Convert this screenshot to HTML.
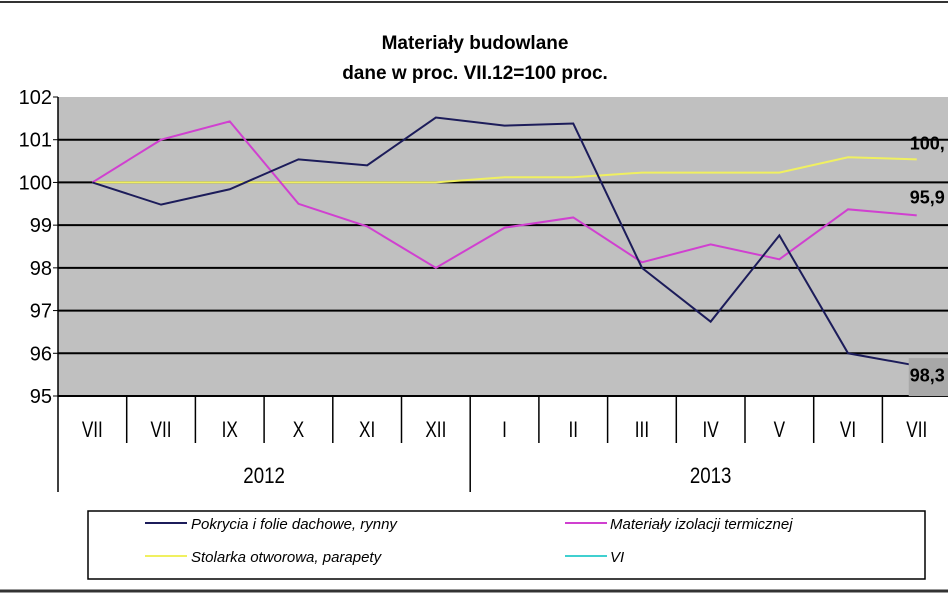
<!DOCTYPE html>
<html><head><meta charset="utf-8"><style>
html,body{margin:0;padding:0;background:#fff;}
body{width:948px;height:593px;overflow:hidden;position:relative;font-family:"Liberation Sans",sans-serif;}
</style></head><body>
<svg id="chart" width="948" height="593" xmlns="http://www.w3.org/2000/svg" font-family="Liberation Sans, sans-serif">
<line x1="0" y1="2" x2="948" y2="2" stroke="#333" stroke-width="2"/>
<line x1="0" y1="591" x2="948" y2="591" stroke="#333" stroke-width="3"/>
<text x="475" y="49" text-anchor="middle" font-size="19" font-weight="bold">Materiały budowlane</text>
<text x="475" y="79" text-anchor="middle" font-size="19" font-weight="bold">dane w proc. VII.12=100 proc.</text>
<rect x="58" y="97" width="890" height="299" fill="#c0c0c0"/>
<g id="grid"></g><g id="axes"></g><g id="series"></g><g id="labels"></g>
<rect x="88" y="511" width="837" height="68" fill="#fff" stroke="#000" stroke-width="1.5"/>
<g font-size="15" font-style="italic">
<g><line x1="145" y1="523" x2="187" y2="523" stroke="#1c1c5a" stroke-width="2"/><text x="191" y="529">Pokrycia i folie dachowe, rynny</text></g>
<g><line x1="565" y1="523" x2="607" y2="523" stroke="#d040d0" stroke-width="2"/><text x="610" y="529">Materiały izolacji termicznej</text></g>
<g><line x1="145" y1="556" x2="187" y2="556" stroke="#f0f060" stroke-width="2"/><text x="191" y="562">Stolarka otworowa, parapety</text></g>
<g><line x1="565" y1="556" x2="607" y2="556" stroke="#40d0d0" stroke-width="2"/><text x="610" y="562">VI</text></g>
</g>
</svg>
<script>
const categories=["VII","VII","IX","X","XI","XII","I","II","III","IV","V","VI","VII"];
const years=["2012","2013"];
const yTicks=[95,96,97,98,99,100,101,102];
const pokrycia=[100,99.48,99.84,100.54,100.4,101.52,101.33,101.38,98.0,96.74,98.76,96.0,95.71];
const materialy=[100,101.0,101.43,99.5,98.97,98.0,98.94,99.18,98.13,98.55,98.2,99.37,99.23];
const stolarka=[100,100,100,100,100,100,100.12,100.12,100.23,100.23,100.23,100.59,100.54];
const endLabels=["100,","95,9","98,3"];
const NS="http://www.w3.org/2000/svg";
const L=58,T=97,B=396,BW=68.7;
function x(i){return L+(i+0.5)*BW;}
function y(v){return B-(v-95)*(B-T)/7;}
function mk(tag,attrs,parent){const e=document.createElementNS(NS,tag);for(const k in attrs)e.setAttribute(k,attrs[k]);document.getElementById(parent).appendChild(e);return e;}
yTicks.forEach(v=>{
 if(v>95&&v<102){const g=mk('line',{x1:L,x2:948,y1:y(v),y2:y(v),stroke:'#000','stroke-width':2},'grid');
 
 }
 const t=mk('text',{x:L-6,y:y(v)+7,'text-anchor':'end','font-size':20},'axes');t.textContent=v;
 
 
 const tk=mk('line',{x1:L-5,x2:L,y1:y(v),y2:y(v),stroke:'#000'},'axes');
 
 
});
const ax=mk('line',{x1:L,x2:L,y1:T,y2:B,stroke:'#000','stroke-width':1.5},'axes');


const xa=mk('line',{x1:L,x2:948,y1:B,y2:B,stroke:'#000','stroke-width':2},'axes');


categories.forEach((c,i)=>{
 const d=mk('line',{x1:L+i*BW,x2:L+i*BW,y1:B,y2:(i==0||i==6)?492:443,stroke:'#000','stroke-width':1.5},'axes');
 
 
 const t=mk('text',{x:x(i),y:437,'text-anchor':'middle','font-size':22,transform:`translate(${x(i)},0) scale(0.78,1) translate(${-x(i)},0)`},'axes');t.textContent=c;
 
 
});
years.forEach((yr,j)=>{
 const cx=L+(j*6+3)*BW+(j?0.5*BW:0);
 const t=mk('text',{x:cx,y:483,'text-anchor':'middle','font-size':22,transform:`translate(${cx},0) scale(0.85,1) translate(${-cx},0)`},'axes');t.textContent=yr;
 
 
});
const lb=mk('rect',{x:x(12)-8,y:y(95.7)-8,width:70,height:38,fill:'#a8a8a8'},'labels');


[[stolarka,'#f0f060','series-stolarka'],[materialy,'#d040d0','series-materialy'],[pokrycia,'#1c1c5a','series-pokrycia']].forEach(([d,c,n])=>{
 const p=mk('polyline',{points:d.map((v,i)=>x(i)+','+y(v)).join(' '),fill:'none',stroke:c,'stroke-width':2},'series');
 
 
});
[[stolarka,-10],[materialy,-12],[pokrycia,16]].forEach(([d,dy],i)=>{
 const t=mk('text',{x:x(12)-7,y:y(d[12])+dy,'font-size':18,'font-weight':'bold'},'labels');t.textContent=endLabels[i];
 
 
});
</script>
</body></html>
